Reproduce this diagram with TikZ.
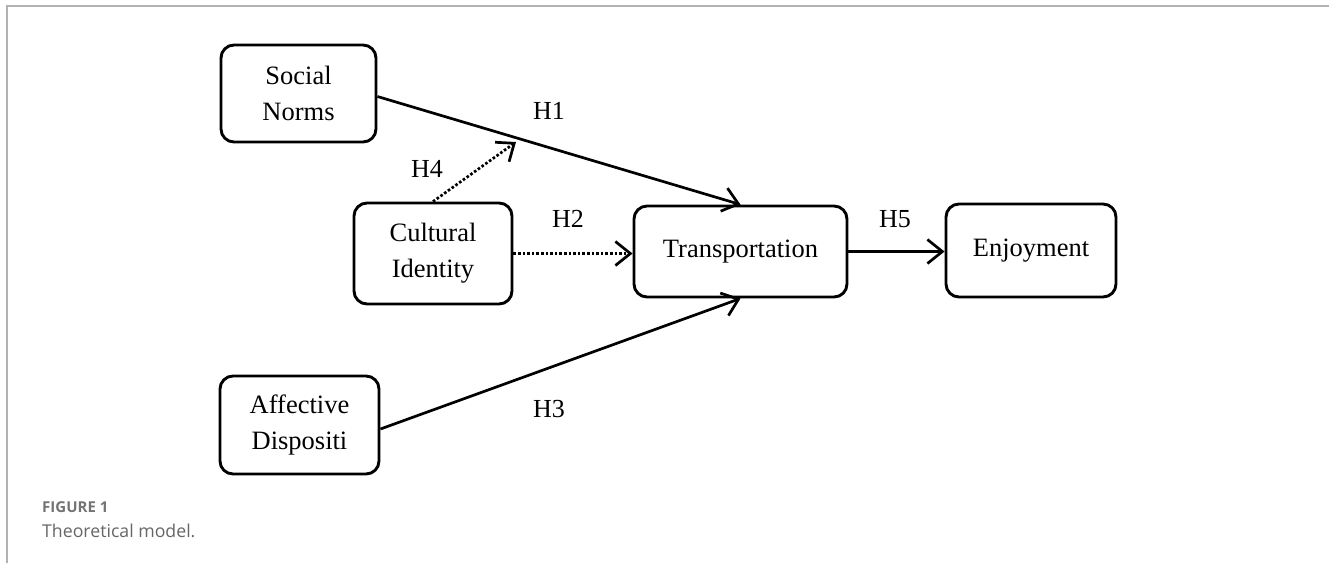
\documentclass[tikz,border=0pt]{standalone}
\usepackage{fontspec}
\setmainfont{Liberation Serif}
\newfontfamily\capfont{Open Sans}
\usetikzlibrary{arrows.meta,calc}
\begin{document}
\begin{tikzpicture}[x=1pt,y=-1pt,
  box/.style={draw=black, line width=2.9pt, rounded corners=13pt, align=center,
    font=\fontsize{26.5}{36}\selectfont, inner sep=0pt},
  conn/.style={line width=2.7pt, -{Straight Barb[length=15pt,width=24pt,line width=2.7pt]}},
  dotconn/.style={conn, dash pattern=on 2.6pt off 2pt},
  lab/.style={font=\fontsize{26}{30}\selectfont, inner sep=0pt}]
\useasboundingbox (0,0) rectangle (1329,563);
\draw[black!30, line width=1.5pt] (7,563) -- (7,6) -- (1329,6);

\node[box, minimum width=155pt, minimum height=97pt] (SN) at (298.5,93.5) {Social\\Norms};
\node[box, minimum width=159pt, minimum height=98pt] (AD) at (299.5,425) {Affective\\Dispositi};
\node[box, minimum width=158pt, minimum height=101pt] (CI) at (433,253.5) {Cultural\\Identity};
\node[box, minimum width=213pt, minimum height=91pt] (TR) at (740.5,251.5) {Transportation};
\node[box, minimum width=170pt, minimum height=93pt] (EN) at (1031,250.5) {Enjoyment};

\coordinate (H4end) at (516,142);

\draw[conn] ($(SN.east)+(0,3)$) -- (TR.north);
\draw[conn] ($(AD.east)+(0,4)$) -- (TR.south);
\draw[dotconn] (CI.east) -- (CI.east -| TR.west);
\draw[dotconn] (CI.north) -- (H4end);
\draw[conn] (TR.east) -- (TR.east -| EN.west);

\node[lab] (h1) at (549,111) {H1};
\node[lab] (h2) at (568,219) {H2};
\node[lab] (h3) at (549,409) {H3};
\node[lab] (h4) at (427,169) {H4};
\node[lab] (h5) at (895,219) {H5};

\node[anchor=base west, inner sep=0pt, font=\capfont\bfseries\fontsize{15}{17}\selectfont, text=black!55] (fig) at (42,512) {FIGURE 1};
\node[anchor=base west, inner sep=0pt, font=\capfont\fontsize{17.7}{22}\selectfont, text=black!60] (cap) at (42,537) {Theoretical model.};
\end{tikzpicture}
\end{document}
